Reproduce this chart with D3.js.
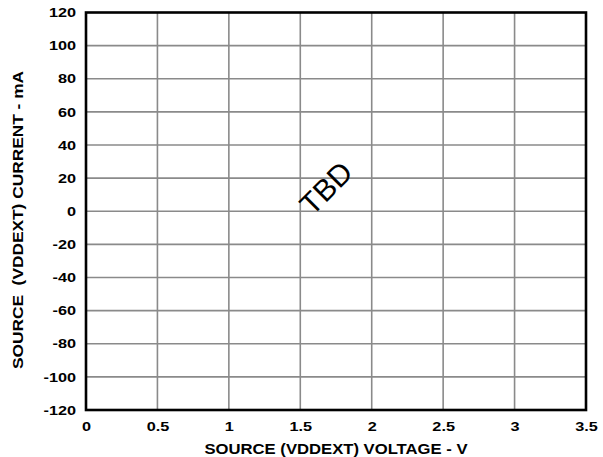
<!DOCTYPE html>
<html>
<head>
<meta charset="utf-8">
<script src="https://cdn.jsdelivr.net/npm/d3@7"></script>
<style>
  html, body { margin: 0; padding: 0; background: #fff; }
  svg { display: block; }
  text { font-family: "Liberation Sans", Arial, Helvetica, sans-serif; fill: #000; white-space: pre; }
  .tick text { font-weight: bold; font-size: 13px; }
</style>
</head>
<body>
<svg id="chart" width="603" height="457"></svg>
<script>
// Axis ticks (the curve itself is still to be determined)
const xTicks = [0, 0.5, 1, 1.5, 2, 2.5, 3, 3.5];
const xTickLabels = ["0", "0.5", "1", "1.5", "2", "2.5", "3", "3.5"];
const yTicks = [120, 100, 80, 60, 40, 20, 0, -20, -40, -60, -80, -100, -120];
const yTickLabels = ["120", "100", "80", "60", "40", "20", "0", "-20", "-40", "-60", "-80", "-100", "-120"];
const xTitle = "SOURCE (VDDEXT) VOLTAGE - V";
const yTitle = "SOURCE  (VDDEXT) CURRENT - mA";
const placeholder = "TBD";

const svg = d3.select("#chart");
const margin = { left: 86, right: 17, top: 12.5, bottom: 47 };
const W = 603, H = 457;
const x = d3.scaleLinear().domain([0, 3.5]).range([margin.left, W - margin.right]);
const y = d3.scaleLinear().domain([-120, 120]).range([H - margin.bottom, margin.top]);

// widen the bold lettering horizontally
function widen(sel, factor) {
  sel.each(function () {
    const len = this.getComputedTextLength();
    d3.select(this).attr("textLength", len * factor).attr("lengthAdjust", "spacingAndGlyphs");
  });
}

// grid lines
const grid = svg.append("g");
grid.selectAll("line.v").data(xTicks.slice(1, -1)).join("line")
  .attr("x1", d => x(d)).attr("x2", d => x(d))
  .attr("y1", y(120)).attr("y2", y(-120))
  .attr("stroke", "#8a8a8a").attr("stroke-width", 1.6);
grid.selectAll("line.h").data(yTicks.slice(1, -1)).join("line")
  .attr("x1", x(0)).attr("x2", x(3.5))
  .attr("y1", d => y(d)).attr("y2", d => y(d))
  .attr("stroke", "#8a8a8a").attr("stroke-width", 1.6);

// frame
svg.append("rect")
  .attr("x", x(0)).attr("y", y(120))
  .attr("width", x(3.5) - x(0)).attr("height", y(-120) - y(120))
  .attr("fill", "none").attr("stroke", "#000").attr("stroke-width", 2.6);

// axes (labels only)
const xAxis = d3.axisBottom(x).tickValues(xTicks)
  .tickFormat((d, i) => xTickLabels[i]).tickSize(0).tickPadding(12);
const gx = svg.append("g").attr("transform", `translate(0,${y(-120)})`).call(xAxis)
  .call(g => g.select(".domain").remove());
widen(gx.selectAll(".tick text"), 1.25);

const yAxis = d3.axisLeft(y).tickValues(yTicks)
  .tickFormat((d, i) => yTickLabels[i]).tickSize(0).tickPadding(10);
const gy = svg.append("g").attr("transform", `translate(${x(0)},0)`).call(yAxis)
  .call(g => g.select(".domain").remove());
widen(gy.selectAll(".tick text"), 1.25);

// axis titles
const xt = svg.append("text")
  .attr("x", 336).attr("y", 454)
  .attr("text-anchor", "middle")
  .attr("font-weight", "bold").attr("font-size", 15)
  .text(xTitle);
widen(xt, 1.11);

const yt = svg.append("text")
  .attr("transform", `translate(22.5,220) rotate(-90)`)
  .attr("text-anchor", "middle")
  .attr("font-weight", "bold").attr("font-size", 14.8)
  .text(yTitle);
widen(yt, 1.17);

// placeholder label
svg.append("text")
  .attr("transform", `translate(${x(1.68)},${y(14)}) rotate(-45)`)
  .attr("text-anchor", "middle").attr("dominant-baseline", "central")
  .attr("font-size", 30)
  .text(placeholder);
</script>
</body>
</html>
